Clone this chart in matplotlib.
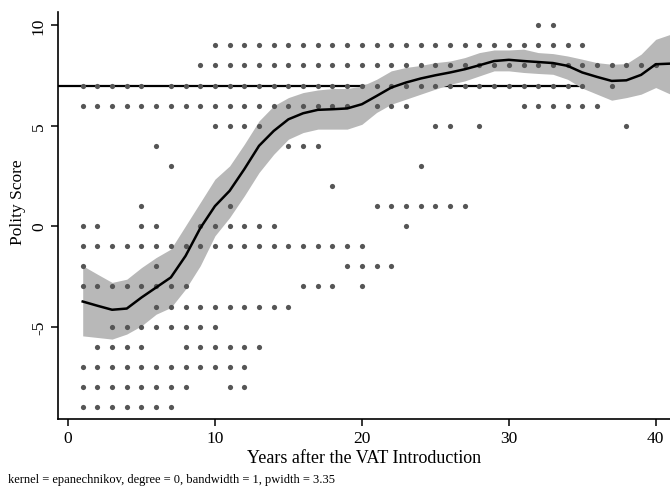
import numpy as np
import matplotlib
matplotlib.use('Agg')
import matplotlib.pyplot as plt

plt.rcParams['font.family'] = ['Liberation Serif', 'DejaVu Serif']

# -------------------------------------------------------
# DATOS
# -------------------------------------------------------
# puntos observados: para cada nivel de Polity, los años con observación
score_levels = [10, 9, 8, 7, 6, 5, 4, 3, 2, 1, 0, -1, -2, -3, -4, -5, -6, -7, -8, -9]
years_by_level = [
    [32, 33],
    list(range(10, 36)),
    list(range(9, 41)),
    [1, 2, 3, 4, 5] + list(range(7, 36)) + [37],
    list(range(1, 20)) + [21, 22, 23] + list(range(31, 37)),
    [10, 11, 12, 13, 25, 26, 28, 38],
    [6, 15, 16, 17],
    [7, 24],
    [18],
    [5, 11, 21, 22, 23, 24, 25, 26, 27],
    [1, 2, 5, 6, 9, 10, 11, 12, 13, 14, 23],
    list(range(1, 21)),
    [1, 6, 19, 20, 21, 22],
    [1, 2, 3, 4, 5, 6, 7, 8, 16, 17, 18, 20],
    list(range(6, 16)),
    list(range(3, 11)),
    [2, 3, 4, 5, 8, 9, 10, 11, 12, 13],
    list(range(1, 13)),
    [1, 2, 3, 4, 5, 6, 7, 8, 11, 12],
    [1, 2, 3, 4, 5, 6, 7],
]

# curva lpoly y banda de confianza
fit_years = list(range(1, 42))
fit_mean = [-3.75, -3.96, -4.16, -4.1, -3.55, -3.05, -2.55, -1.48, -0.1, 1.0,
            1.76, 2.84, 4.0, 4.74, 5.32, 5.62, 5.79, 5.82, 5.86, 6.07,
            6.48, 6.9, 7.15, 7.35, 7.51, 7.65, 7.81, 8.01, 8.22, 8.28,
            8.22, 8.17, 8.12, 7.98, 7.65, 7.43, 7.23, 7.26, 7.53, 8.06, 8.09]
fit_hi = [-1.97, -2.39, -2.8, -2.64, -2.06, -1.56, -1.14, 0.02, 1.18, 2.34,
          3.0, 4.08, 5.24, 5.99, 6.4, 6.65, 6.78, 6.85, 6.85, 6.98,
          7.31, 7.73, 7.9, 8.0, 8.14, 8.22, 8.39, 8.64, 8.77, 8.77,
          8.81, 8.64, 8.59, 8.47, 8.31, 8.14, 8.06, 8.09, 8.56, 9.3, 9.55]
fit_lo = [-5.46, -5.54, -5.62, -5.37, -4.96, -4.38, -4.05, -3.13, -1.97, -0.48,
          0.43, 1.51, 2.67, 3.58, 4.33, 4.66, 4.83, 4.83, 4.83, 5.07,
          5.66, 6.07, 6.32, 6.57, 6.82, 7.06, 7.23, 7.48, 7.73, 7.73,
          7.65, 7.6, 7.56, 7.31, 6.87, 6.57, 6.27, 6.4, 6.57, 6.9, 6.57]

ref_score = 7
x_ticks = [0, 10, 20, 30, 40]
y_ticks = [-5, 0, 5, 10]
note = 'kernel = epanechnikov, degree = 0, bandwidth = 1, pwidth = 3.35'

# -------------------------------------------------------
# GRÁFICO
# -------------------------------------------------------
obs_x = [yr for lvl, yrs in zip(score_levels, years_by_level) for yr in yrs]
obs_y = [lvl for lvl, yrs in zip(score_levels, years_by_level) for yr in yrs]

fig = plt.figure(figsize=(6.7, 4.89), dpi=100)
ax = fig.add_axes([0.0866, 0.141, 0.9134, 0.832])

ax.axhline(ref_score, color='black', lw=1.6, zorder=1)
ax.fill_between(fit_years, fit_lo, fit_hi, color='#b8b8b8', lw=0, zorder=2)
ax.scatter(obs_x, obs_y, s=14, color='#555555', lw=0, zorder=3)
ax.plot(fit_years, fit_mean, color='black', lw=1.8, zorder=4)

ax.set_xlim(-0.68, 40.97)
ax.set_ylim(-9.6, 10.65)
ax.set_xticks(x_ticks)
ax.set_yticks(y_ticks)
ax.set_yticklabels([str(t) for t in y_ticks], rotation=90, va='center')

for side in ['top', 'right']:
    ax.spines[side].set_visible(False)
for side in ['left', 'bottom']:
    ax.spines[side].set_linewidth(1.2)
ax.tick_params(axis='both', direction='out', length=5, width=1.1, labelsize=12.5)
ax.tick_params(axis='x', pad=3)
ax.tick_params(axis='y', pad=3)

ax.set_xlabel('Years after the VAT Introduction', fontsize=13, labelpad=2)
ax.set_ylabel('Polity Score', fontsize=12.5)
ax.yaxis.set_label_coords(-0.053, 0.536)

fig.text(8 / 670, 1 - 480 / 489, note, fontsize=9, ha='left', va='center')

fig.savefig('out.png', dpi=100)
